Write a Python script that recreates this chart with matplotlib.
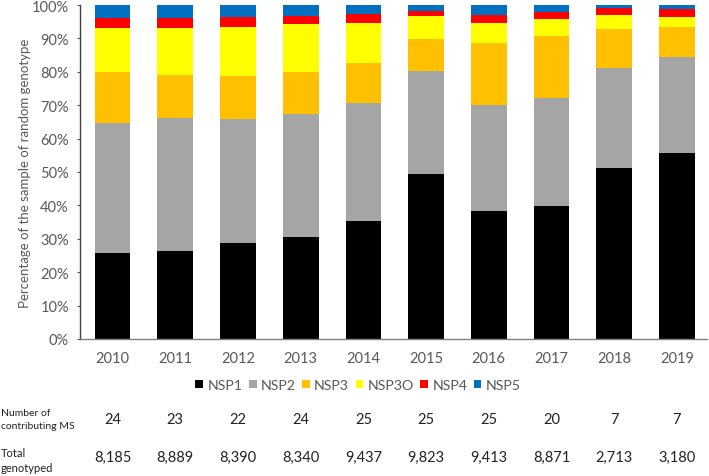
import matplotlib
matplotlib.use("Agg")
import matplotlib.pyplot as plt
import numpy as np

plt.rcParams['font.family'] = ['Lato', 'DejaVu Sans']

years = ["2010", "2011", "2012", "2013", "2014", "2015", "2016", "2017", "2018", "2019"]
nsp1 = [25.6, 26.2, 28.7, 30.6, 35.2, 49.4, 38.3, 39.9, 51.1, 55.7]
nsp2 = [39.0, 39.9, 37.1, 36.9, 35.6, 30.9, 31.7, 32.3, 30.0, 28.6]
nsp3 = [15.2, 12.9, 12.8, 12.5, 11.8, 9.4, 18.6, 18.6, 11.6, 9.2]
nsp3o = [13.2, 14.0, 14.9, 14.2, 12.0, 6.9, 6.1, 5.1, 4.3, 3.0]
nsp4 = [3.0, 3.1, 2.8, 2.6, 2.6, 1.6, 2.4, 1.9, 2.0, 2.3]
nsp5 = [4.0, 3.9, 3.7, 3.2, 2.8, 1.8, 2.9, 2.2, 1.0, 1.2]
series_names = ["NSP1", "NSP2", "NSP3", "NSP3O", "NSP4", "NSP5"]
colors = ["#000000", "#A5A5A5", "#FFC000", "#FFFF00", "#FF0000", "#0070C0"]
contributing_ms = ["24", "23", "22", "24", "25", "25", "25", "20", "7", "7"]
total_genotyped = ["8,185", "8,889", "8,390", "8,340", "9,437", "9,823", "9,413", "8,871", "2,713", "3,180"]

fig = plt.figure(figsize=(7.09, 4.77), dpi=100)
W, H = 709, 477
ax = fig.add_axes([80 / W, 1 - 340 / H, (707 - 80) / W, (340 - 6) / H])

x = np.arange(len(years))
bottom = np.zeros(len(years))
handles = []
for name, vals, c in zip(series_names, [nsp1, nsp2, nsp3, nsp3o, nsp4, nsp5], colors):
    b = ax.bar(x, vals, bottom=bottom, width=0.57, color=c, label=name, linewidth=0)
    handles.append(b)
    bottom += np.array(vals)

ax.set_xlim(-0.52, 9.48)
ax.set_ylim(0, 100)
ax.set_yticks(np.arange(0, 101, 10))
ax.set_yticklabels([f"{v}%" for v in range(0, 101, 10)])
ax.set_xticks(x)
ax.set_xticklabels(years)
ax.tick_params(axis='y', colors='#595959', labelsize=10.5, length=2.5, width=0.8, direction='out', pad=5.5)
ax.tick_params(axis='x', colors='#595959', labelsize=10.5, length=0, pad=9)
for s in ['top', 'right']:
    ax.spines[s].set_visible(False)
ax.spines['left'].set_color('#404040')
ax.spines['bottom'].set_color('#808080')
ax.spines['left'].set_linewidth(1.0)
ax.spines['bottom'].set_linewidth(1.0)
ax.set_ylabel("Percentage of the sample of random genotype", fontsize=9.5, color='#595959')
ax.yaxis.set_label_coords((31 - 80) / 627, 0.5)

fig.legend(handles=handles, labels=series_names, loc='center', bbox_to_anchor=(358 / W, 1 - 386 / H),
           ncol=6, frameon=False, fontsize=10.2, handlelength=0.55, handleheight=0.55,
           handletextpad=0.3, columnspacing=0.45, labelcolor='#595959')

# table rows
fig.text(1 / W, 1 - 420 / H, "Number of\ncontributing MS", fontsize=7.5, va='center', ha='left',
         color='#222222', linespacing=1.5)
fig.text(1 / W, 1 - 461 / H, "Total\ngenotyped", fontsize=8, va='center', ha='left',
         color='#222222', linespacing=1.45)
for i in range(len(years)):
    xf = ax.transData.transform((x[i], 0))[0] / W
    fig.text(xf, 1 - 420 / H, contributing_ms[i], fontsize=10.5, ha='center', va='center', color='#222222')
    fig.text(xf, 1 - 458 / H, total_genotyped[i], fontsize=10.5, ha='center', va='center', color='#222222')

fig.savefig("out.png", dpi=100)
